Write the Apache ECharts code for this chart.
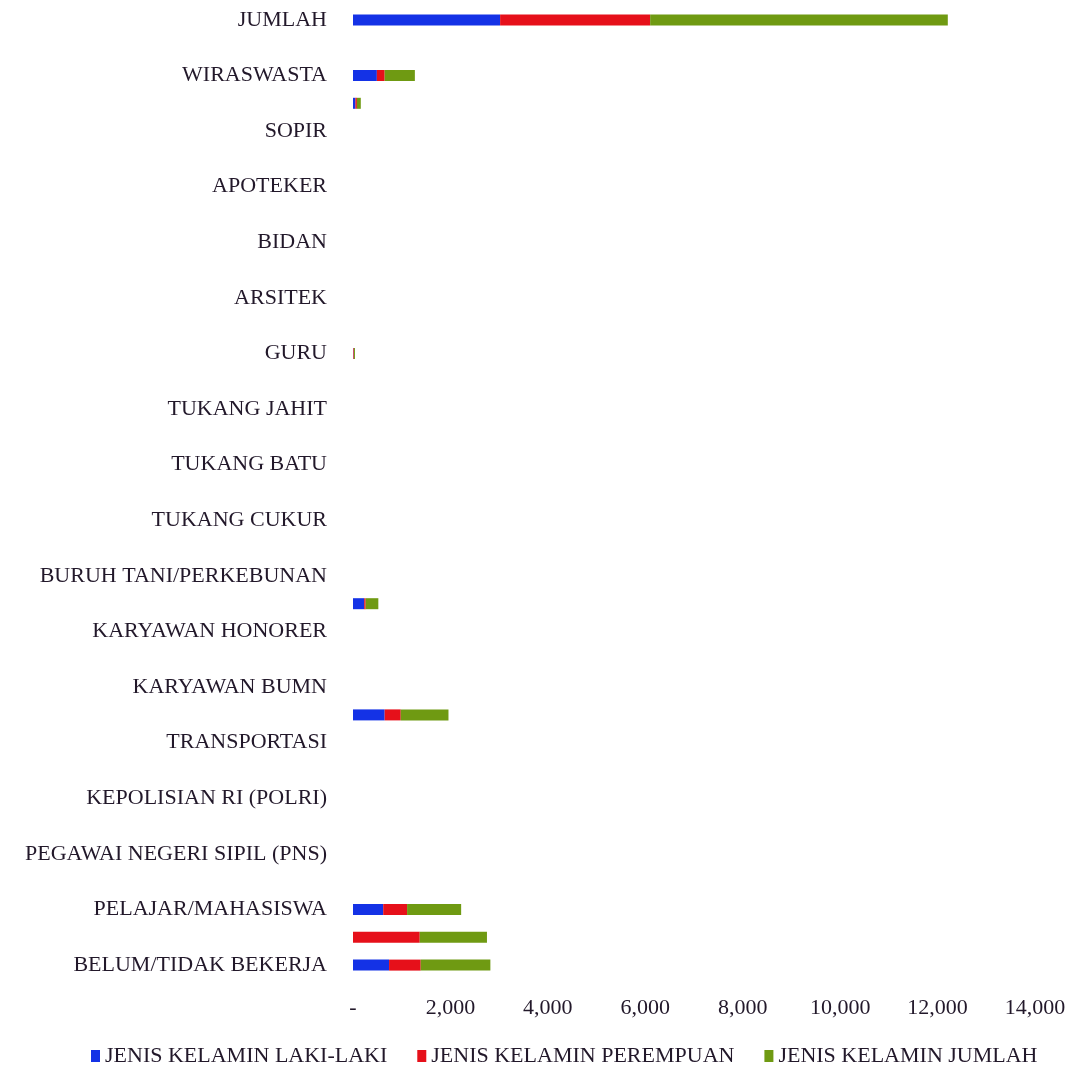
<!DOCTYPE html>
<html><head><meta charset="utf-8">
<script src="https://cdn.jsdelivr.net/npm/echarts@6/dist/echarts.min.js"></script>
<style>html,body{margin:0;padding:0;background:#fff}#c{width:1078px;height:1084px}</style>
</head><body><div id="c"></div>
<script>
const categories = [
  "BELUM/TIDAK BEKERJA","MENGURUS RUMAH TANGGA","PELAJAR/MAHASISWA","PENSIUNAN",
  "PEGAWAI NEGERI SIPIL (PNS)","TENTARA NASIONAL INDONESIA (TNI)","KEPOLISIAN RI (POLRI)","PERDAGANGAN",
  "TRANSPORTASI","KARYAWAN SWASTA","KARYAWAN BUMN","KARYAWAN BUMD",
  "KARYAWAN HONORER","BURUH HARIAN LEPAS","BURUH TANI/PERKEBUNAN","BURUH NELAYAN/PERIKANAN",
  "TUKANG CUKUR","TUKANG LISTRIK","TUKANG BATU","TUKANG KAYU",
  "TUKANG JAHIT","PENATA RAMBUT","GURU","DOSEN",
  "ARSITEK","KONSULTAN","BIDAN","PERAWAT",
  "APOTEKER","PELAUT","SOPIR","PEDAGANG",
  "WIRASWASTA","LAINNYA","JUMLAH"
];
const lakiLaki =   [740,0,620,0, 0,0,0,0, 0,650,0,0, 0,230,0,0, 0,0,0,0, 0,0,8,0, 0,0,0,0, 0,0,0,50, 490,0,3020];
const perempuan =  [650,1370,490,0, 0,0,0,0, 0,330,0,0, 0,30,0,0, 0,0,0,0, 0,0,12,0, 0,0,0,0, 0,0,0,30, 160,0,3080];
const jumlah =     [1430,1380,1110,0, 0,0,0,0, 0,980,0,0, 0,260,0,0, 0,0,0,0, 0,0,20,0, 0,0,0,0, 0,0,0,80, 620,0,6110];
const seriesNames = ["JENIS KELAMIN LAKI-LAKI","JENIS KELAMIN PEREMPUAN","JENIS KELAMIN JUMLAH"];
const colors = ["#1432e6","#e6101a","#6f9a12"];
const xTicks = {min:0,max:14000,interval:2000};

const font = "'Liberation Serif', 'DejaVu Serif', serif";
const txt = '#22182a';
const chart = echarts.init(document.getElementById('c'));
const mk = (name, data, i) => ({
  name, type:'bar', stack:'total', data, barWidth:11,
  itemStyle:{color:colors[i]}
});
chart.setOption({
  animation:false,
  color:colors,
  grid:{left:353,right:43,top:6,bottom:105,containLabel:false},
  legend:{
    bottom:12,left:86,itemWidth:9,itemHeight:12,itemGap:30,icon:'rect',
    textStyle:{fontFamily:font,fontSize:22,color:txt},
    data:seriesNames
  },
  xAxis:{
    type:'value',min:xTicks.min,max:xTicks.max,interval:xTicks.interval,
    axisLine:{show:false},axisTick:{show:false},splitLine:{show:false},
    axisLabel:{fontFamily:font,fontSize:22,color:txt,margin:18,
      formatter:v=> v===0 ? '-' : v.toLocaleString('en-US')}
  },
  yAxis:{
    type:'category',data:categories,
    axisLine:{show:false},axisTick:{show:false},
    axisLabel:{interval:1,fontFamily:font,fontSize:22,color:txt,margin:26}
  },
  series:[mk(seriesNames[0],lakiLaki,0),mk(seriesNames[1],perempuan,1),mk(seriesNames[2],jumlah,2)]
});
</script></body></html>
